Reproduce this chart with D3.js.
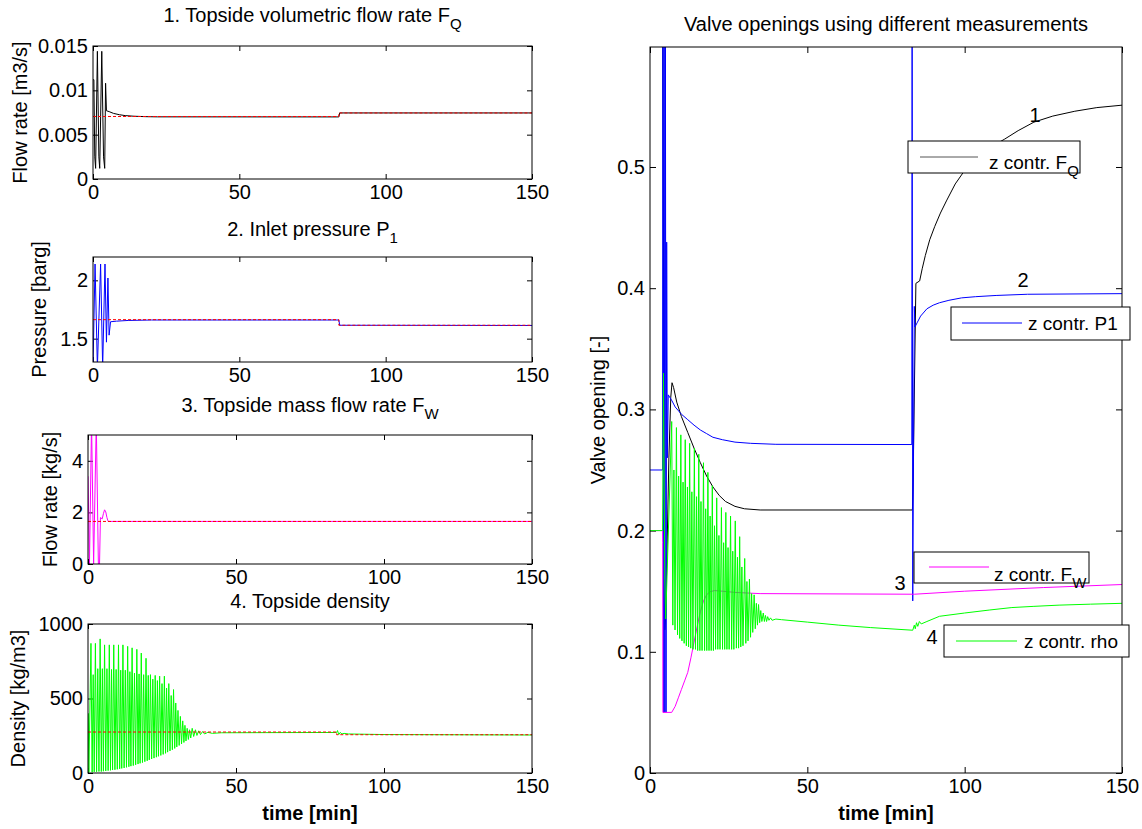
<!DOCTYPE html>
<html>
<head>
<meta charset="utf-8">
<script src="https://cdn.jsdelivr.net/npm/d3@7"></script>
<style>
  body { margin: 0; background: #fff; }
  text { font-family: "Liberation Sans", Arial, sans-serif; fill: #000; }
</style>
</head>
<body>
<svg id="chart" width="1142" height="829"></svg>
<script>
// ---- data: [time (min), value] ----
const timeTicks = [0, 50, 100, 150];

// 1. topside volumetric flow rate (m3/s)
const flowQTicks = [0, 0.005, 0.01, 0.015];
const flowQ = [[0,0.0112],[0.3,0.0112],[0.6,0.0025],[0.9,0.0012],[1.5,0.0144],[2.0,0.0025],[2.3,0.0012],
  [3.0,0.0144],[3.6,0.0025],[4.0,0.0012],[4.3,0.0108],[4.6,0.0077],[5.5,0.0076],[7,0.0074],[9,0.00725],
  [11,0.00715],[14,0.00708],[18,0.00703],[22,0.00701],[84,0.0070],[84.3,0.00745],[150,0.00745]];
const flowQRef = [[0,0.00705],[84,0.00705],[84,0.00745],[150,0.00745]];

// 2. inlet pressure (barg)
const pressureTicks = [1.5, 2];
const pressure = [[0,1.25],[0.7,2.14],[1.5,1.25],[2.6,2.14],[3.3,1.25],[4.1,2.14],[4.6,1.47],[5.1,2.02],
  [5.5,1.53],[6,1.645],[8,1.65],[12,1.656],[20,1.66],[84,1.66],[84.3,1.615],[150,1.613]];
const pressureRef = [[0,1.663],[84,1.663],[84,1.615],[150,1.615]];

// 3. topside mass flow rate (kg/s)
const massTicks = [0, 2, 4];
const massFlow = [[0,3.4],[0.5,0],[1.2,5.5],[1.9,0],[2.8,5.5],[3.5,0],[3.9,0],[4.2,1.8],[4.8,1.75],
  [5.2,1.95],[5.6,2.1],[6.0,2.02],[6.4,1.8],[6.8,1.65],[150,1.65]];
const massRef = [[0,1.65],[150,1.65]];

// 4. topside density (kg/m3)
const densityTicks = [0, 500, 1000];
const density = [[0,0],[0.05,400],[0.3,5],
  [1.0,870],[1.4,5],[1.75,660],[2.1,8],
  [2.5,870],[2.9,8],[3.3,700],[3.7,10],
  [4.1,900],[4.5,10],[4.85,700],[5.2,12],
  [5.6,860],[6.0,14],[6.4,700],[6.8,16],
  [7.2,860],[7.6,18],[7.95,695],[8.3,20],
  [8.7,860],[9.1,22],[9.5,695],[9.9,25],
  [10.3,860],[10.7,28],[11.05,690],[11.4,31],
  [11.8,860],[12.2,34],[12.6,690],[13.0,38],
  [13.4,850],[13.8,42],[14.15,680],[14.5,46],
  [14.9,840],[15.3,50],[15.7,670],[16.1,55],
  [16.5,830],[16.9,60],[17.25,665],[17.6,65],
  [18.0,805],[18.4,70],[18.8,660],[19.2,76],
  [19.6,770],[20.0,82],[20.35,655],[20.7,88],
  [21.1,660],[21.5,94],[21.9,630],[22.3,100],
  [22.7,655],[23.1,106],[23.45,620],[23.8,112],
  [24.2,650],[24.6,118],[25.0,600],[25.4,125],
  [25.8,650],[26.2,132],[26.55,570],[26.9,140],
  [27.3,600],[27.7,148],[28.1,520],[28.5,156],
  [28.9,560],[29.3,165],[29.65,470],[30.0,175],
  [30.4,420],[30.8,185],[31.2,380],[31.6,195],
  [32.0,350],[32.4,205],[32.75,320],[33.1,215],
  [33.5,300],[33.9,225],[34.3,290],[34.7,235],
  [35.2,300],[35.7,245],[36.3,290],[36.8,252],[37.4,283],[38,258],[38.7,278],[39.4,262],
  [40.5,273],[42,266],[45,270],[60,271],[84,272],[84.3,285],[84.7,258],[85.2,272],[85.8,262],
  [86.5,266],[88,262],[100,258],[150,255]];
const densityRef = [[0,275],[84,275],[84,257],[150,257]];

// valve openings (-)
const valveTicks = [0, 0.1, 0.2, 0.3, 0.4, 0.5];
const valveFQ = [[0,0.65],[4,0.65],[4.7,0.118],[5.0,0.13],[6.0,0.26],[6.6,0.31],[7.0,0.322],[7.5,0.318],
  [8.5,0.306],[10,0.294],[12,0.281],[14,0.268],[16,0.256],[18,0.245],[20,0.236],[22,0.229],[24,0.224],
  [27,0.220],[30,0.218],[35,0.217],[83.4,0.217],[83.6,0.24],[84.5,0.404],[85.7,0.406],[86.5,0.416],
  [87.5,0.427],[88.9,0.44],[90.5,0.451],[92.3,0.462],[94.2,0.472],[97,0.486],[100.5,0.499],[104,0.508],
  [108,0.516],[112.7,0.523],[117,0.530],[122,0.537],[128,0.542],[135,0.546],[142,0.549],[150,0.551]];
const valveP1 = [[0,0.25],[4,0.25],[4.1,0.62],[4.3,0.05],[4.5,0.62],[4.7,0.05],[4.9,0.62],[5.1,0.05],
  [5.3,0.438],[5.5,0.26],[5.8,0.312],[7,0.307],[8,0.302],[10,0.296],[12,0.2915],[14,0.287],[16,0.283],
  [18,0.280],[20,0.277],[23,0.275],[27,0.273],[32,0.272],[40,0.2712],[83.2,0.271],[83.3,0.62],
  [83.5,0.142],[84,0.385],[84.2,0.368],[85,0.372],[86,0.377],[88,0.383],[90,0.386],[92,0.388],
  [95,0.390],[99,0.392],[103.5,0.393],[110,0.394],[120,0.395],[150,0.3955]];
const valveFW = [[0,0.2],[4,0.2],[4.05,0.19],[4.1,0.05],[6.9,0.05],[8,0.055],[9,0.062],[10,0.069],
  [11,0.076],[12,0.083],[13,0.095],[14,0.108],[15,0.121],[16,0.133],[17,0.142],[18,0.147],[19,0.1495],
  [20.5,0.1505],[23,0.150],[27,0.149],[35,0.148],[84,0.1475],[100,0.150],[125,0.153],[150,0.1555]];
const valveRho = [[0,0.2],[4.0,0.2],[4.3,0.33],[4.7,0.16],[5.0,0.127],
  [6.9,0.290],[7.25,0.122],[7.6,0.250],[7.95,0.118],
  [8.4,0.285],[8.75,0.114],[9.1,0.245],[9.45,0.111],
  [9.8,0.279],[10.15,0.109],[10.5,0.240],[10.85,0.107],
  [11.2,0.275],[11.55,0.105],[11.9,0.236],[12.25,0.104],
  [12.6,0.272],[12.95,0.103],[13.3,0.232],[13.65,0.102],
  [14.1,0.268],[14.45,0.102],[14.8,0.228],[15.15,0.101],
  [15.5,0.263],[15.85,0.101],[16.2,0.224],[16.55,0.101],
  [17.0,0.256],[17.35,0.101],[17.7,0.218],[18.05,0.101],
  [18.4,0.248],[18.75,0.101],[19.1,0.212],[19.45,0.101],
  [19.8,0.237],[20.15,0.101],[20.5,0.204],[20.85,0.102],
  [21.2,0.227],[21.55,0.102],[21.9,0.196],[22.25,0.102],
  [22.7,0.219],[23.05,0.102],[23.4,0.190],[23.75,0.102],
  [24.1,0.215],[24.45,0.102],[24.8,0.186],[25.15,0.102],
  [25.6,0.212],[25.95,0.102],[26.3,0.183],[26.65,0.102],
  [27.1,0.208],[27.45,0.103],[27.8,0.178],[28.15,0.103],
  [28.5,0.195],[28.85,0.104],[29.2,0.170],[29.55,0.105],
  [30.1,0.177],[30.45,0.107],[30.8,0.158],[31.15,0.109],
  [31.6,0.160],[31.95,0.112],[32.3,0.148],[32.65,0.116],
  [33.1,0.147],[33.45,0.119],[33.8,0.140],[34.15,0.122],
  [34.5,0.139],[34.85,0.124],[35.2,0.134],[35.55,0.125],
  [36.0,0.132],[36.35,0.125],[36.7,0.130],[37.05,0.125],
  [37.4,0.129],[37.8,0.126],[38.3,0.128],[38.8,0.126],
  [40,0.127],[41.8,0.1265],[50,0.1245],[60,0.122],[70,0.12],[83.5,0.1178],[84,0.122],[84.3,0.119],
  [84.7,0.124],[85.1,0.121],[85.6,0.125],[86.2,0.123],[88,0.125],[92,0.1293],[100,0.132],[108,0.1345],
  [115,0.1365],[122,0.1375],[130,0.1385],[140,0.1393],[150,0.140]];

const svg = d3.select("#chart");
let clipId = 0;

// draw one MATLAB-style axes box
function panel(opt) {
  const x = d3.scaleLinear().domain([0, 150]).range([opt.left, opt.right]);
  const y = d3.scaleLinear().domain(opt.yDomain).range([opt.bottom, opt.top]);
  const g = svg.append("g");
  const tick = opt.tick || 5;

  // ticks on all four sides, pointing inwards
  g.append("g").attr("transform", `translate(0,${opt.bottom})`)
    .call(d3.axisBottom(x).tickValues(timeTicks).tickSize(-tick).tickSizeOuter(0).tickPadding(6).tickFormat(d3.format("d")));
  g.append("g").attr("transform", `translate(0,${opt.top})`)
    .call(d3.axisTop(x).tickValues(timeTicks).tickSize(-tick).tickSizeOuter(0).tickFormat(""));
  g.append("g").attr("transform", `translate(${opt.left},0)`)
    .call(d3.axisLeft(y).tickValues(opt.yTicks).tickSize(-tick).tickSizeOuter(0).tickPadding(5).tickFormat(d => String(d)));
  g.append("g").attr("transform", `translate(${opt.right},0)`)
    .call(d3.axisRight(y).tickValues(opt.yTicks).tickSize(-tick).tickSizeOuter(0).tickFormat(""));
  g.selectAll(".domain").remove();
  g.selectAll(".tick line").attr("stroke", "#000");
  g.selectAll(".tick text").attr("font-size", 20).attr("font-family", "Liberation Sans, Arial, sans-serif").attr("fill", "#000");

  const id = "clip" + (clipId++);
  svg.append("clipPath").attr("id", id).append("rect")
    .attr("x", opt.left).attr("y", opt.top).attr("width", opt.right - opt.left).attr("height", opt.bottom - opt.top);
  const plot = svg.append("g").attr("clip-path", `url(#${id})`);
  const line = d3.line().x(d => x(d[0])).y(d => y(d[1]));
  opt.series.forEach(s => {
    plot.append("path").attr("d", line(s.data)).attr("fill", "none")
      .attr("stroke", s.color).attr("stroke-width", s.width || 1)
      .attr("stroke-dasharray", s.dash || null);
  });

  svg.append("rect").attr("x", opt.left).attr("y", opt.top)
    .attr("width", opt.right - opt.left).attr("height", opt.bottom - opt.top)
    .attr("fill", "none").attr("stroke", "#000").attr("stroke-width", 1);

  // title with optional subscript
  const t = svg.append("text").attr("x", (opt.left + opt.right) / 2).attr("y", opt.titleY)
    .attr("text-anchor", "middle").attr("font-size", 20).text(opt.title[0]);
  if (opt.title[1]) t.append("tspan").attr("dy", 7).attr("font-size", 15).text(opt.title[1]);

  svg.append("text").attr("transform", `translate(${opt.ylabelX},${(opt.top + opt.bottom) / 2}) rotate(-90)`)
    .attr("text-anchor", "middle").attr("dominant-baseline", "central").attr("font-size", 20).text(opt.ylabel);

  if (opt.xlabel) {
    svg.append("text").attr("x", (opt.left + opt.right) / 2).attr("y", opt.bottom + 47)
      .attr("text-anchor", "middle").attr("font-size", 20).attr("font-weight", "bold").text(opt.xlabel);
  }
  return { x, y };
}

const red = { color: "#ff0000", dash: "3,2" };

panel({ left: 93, right: 532, top: 46, bottom: 179, yDomain: [0, 0.015], yTicks: flowQTicks,
  title: ["1. Topside volumetric flow rate F", "Q"], titleY: 22, ylabel: "Flow rate [m3/s]", ylabelX: 20,
  series: [{ data: flowQ, color: "#000" }, { data: flowQRef, ...red }] });

panel({ left: 93, right: 532, top: 257, bottom: 362, yDomain: [1.3, 2.2], yTicks: pressureTicks,
  title: ["2. Inlet pressure P", "1"], titleY: 236, ylabel: "Pressure [barg]", ylabelX: 39,
  series: [{ data: pressure, color: "#0000ff" }, { data: pressureRef, ...red }] });

panel({ left: 88, right: 532, top: 435, bottom: 564, yDomain: [0, 5], yTicks: massTicks,
  title: ["3. Topside mass flow rate F", "W"], titleY: 412, ylabel: "Flow rate [kg/s]", ylabelX: 50,
  series: [{ data: massFlow, color: "#ff00ff" }, { data: massRef, ...red }] });

panel({ left: 88, right: 532, top: 624, bottom: 773, yDomain: [0, 1000], yTicks: densityTicks,
  title: ["4. Topside density"], titleY: 608, ylabel: "Density [kg/m3]", ylabelX: 18, xlabel: "time [min]",
  series: [{ data: density, color: "#00ff00" }, { data: densityRef, ...red }] });

panel({ left: 650, right: 1122, top: 47, bottom: 773, yDomain: [0, 0.599], yTicks: valveTicks, tick: 6,
  title: ["Valve openings using different measurements"], titleY: 31, ylabel: "Valve opening [-]", ylabelX: 598,
  xlabel: "time [min]",
  series: [{ data: valveFQ, color: "#000" }, { data: valveP1, color: "#0000ff" },
           { data: valveFW, color: "#ff00ff" }, { data: valveRho, color: "#00ff00" }] });

// legends (one box per curve, as in the figure)
const legends = [
  { box: [908, 141, 172, 32], color: "#555", lineY: 157, lx: [920, 978], tx: 989, ty: 169, label: "z contr. F", sub: "Q" },
  { box: [951, 307, 179, 33], color: "#0000ff", lineY: 323, lx: [962, 1022], tx: 1028, ty: 330, label: "z contr. P1" },
  { box: [914, 552, 175, 31], color: "#ff00ff", lineY: 567, lx: [929, 989], tx: 994, ty: 581, label: "z contr. F", sub: "W" },
  { box: [944, 625, 185, 32], color: "#00ff00", lineY: 641, lx: [956, 1017], tx: 1024, ty: 648, label: "z contr. rho" }
];
legends.forEach(l => {
  svg.append("rect").attr("x", l.box[0]).attr("y", l.box[1]).attr("width", l.box[2]).attr("height", l.box[3])
    .attr("fill", "#fff").attr("stroke", "#000");
  svg.append("line").attr("x1", l.lx[0]).attr("x2", l.lx[1]).attr("y1", l.lineY).attr("y2", l.lineY)
    .attr("stroke", l.color);
  const t = svg.append("text").attr("x", l.tx).attr("y", l.ty).attr("font-size", 19).text(l.label);
  if (l.sub) t.append("tspan").attr("dy", 7).attr("font-size", 15).text(l.sub);
});

// curve numbers
const curveNumbers = [["1", 1035, 122], ["2", 1023, 287], ["3", 900, 590], ["4", 932, 644]];
curveNumbers.forEach(n => {
  svg.append("text").attr("x", n[1]).attr("y", n[2]).attr("text-anchor", "middle").attr("font-size", 20).text(n[0]);
});
</script>
</body>
</html>
